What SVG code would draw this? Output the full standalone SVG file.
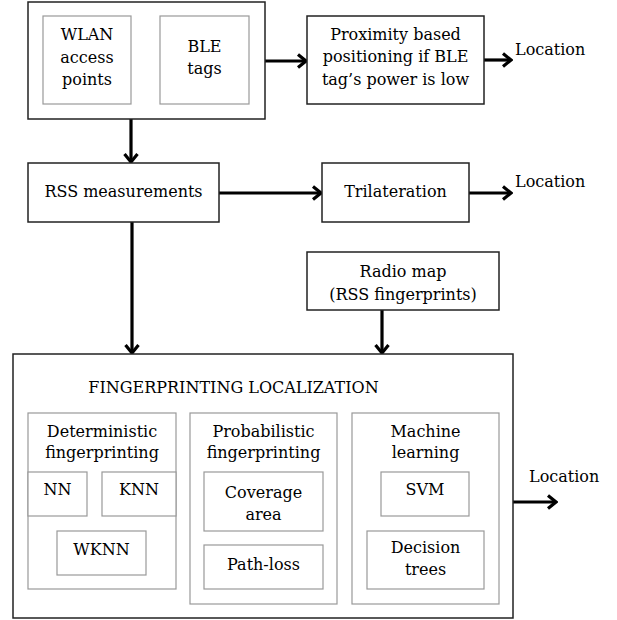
<svg xmlns="http://www.w3.org/2000/svg" width="617" height="620" viewBox="0 0 617 620">
<defs>
<marker id="ah" markerUnits="userSpaceOnUse" viewBox="0 0 12 16" refX="10" refY="8" markerWidth="12" markerHeight="16" orient="auto">
<path d="M2,1.5 L10,8 L2,14.5" fill="none" stroke="#000" stroke-width="3.2" stroke-linejoin="miter"/>
</marker>
</defs>
<style>
text{font-family:"DejaVu Serif","Liberation Serif",serif;font-size:16px;fill:#000;text-anchor:middle}
.main{fill:#fff;stroke:#222;stroke-width:1.5}
.sub{fill:#fff;stroke:#999;stroke-width:1.2}
.conn{stroke:#000;stroke-width:3.2;fill:none;marker-end:url(#ah)}
.loc{text-anchor:start}
</style>
<rect width="617" height="620" fill="#fff"/>
<g id="connectors">
<line class="conn" x1="249" y1="61" x2="306" y2="61"/>
<line class="conn" x1="484" y1="60" x2="511" y2="60"/>
<line class="conn" x1="131" y1="119" x2="131" y2="162"/>
<line class="conn" x1="219" y1="193" x2="321" y2="193"/>
<line class="conn" x1="469" y1="193" x2="511" y2="193"/>
<line class="conn" x1="132" y1="222" x2="132" y2="353"/>
<line class="conn" x1="382" y1="310" x2="382" y2="353"/>
<line class="conn" x1="513" y1="502" x2="556" y2="502"/>
</g>
<g id="sources">
<rect class="main" x="28" y="2" width="237" height="117"/>
<g id="wlan">
<rect class="sub" x="43" y="16" width="88" height="88"/>
<text x="87" y="40">WLAN</text>
<text x="87" y="63">access</text>
<text x="87" y="85">points</text>
</g>
<g id="ble">
<rect class="sub" x="160" y="16" width="89" height="88"/>
<text x="204.5" y="52">BLE</text>
<text x="204.5" y="74">tags</text>
</g>
</g>
<g id="proximity">
<rect class="main" x="307" y="16" width="177" height="88"/>
<text x="395.5" y="40">Proximity based</text>
<text x="395.5" y="62">positioning if BLE</text>
<text x="395.5" y="85">tag’s power is low</text>
</g>
<text class="loc" x="515" y="55">Location</text>
<g id="rss">
<rect class="main" x="28" y="163" width="191" height="59"/>
<text x="123.5" y="197">RSS measurements</text>
</g>
<g id="trilateration">
<rect class="main" x="322" y="163" width="147" height="59"/>
<text x="395.5" y="197">Trilateration</text>
</g>
<text class="loc" x="515" y="187">Location</text>
<g id="radiomap">
<rect class="main" x="307" y="252" width="192" height="58"/>
<text x="403" y="277">Radio map</text>
<text x="403" y="300">(RSS fingerprints)</text>
</g>
<g id="fingerprinting">
<rect class="main" x="13" y="354" width="500" height="264"/>
<text x="233.5" y="393">FINGERPRINTING LOCALIZATION</text>
<g id="deterministic">
<rect class="sub" x="28" y="413" width="148" height="176"/>
<text x="102" y="437">Deterministic</text>
<text x="102" y="458">fingerprinting</text>
<g id="nn"><rect class="sub" x="28" y="472" width="59" height="44"/><text x="57.5" y="495">NN</text></g>
<g id="knn"><rect class="sub" x="102" y="472" width="74" height="44"/><text x="139" y="495">KNN</text></g>
<g id="wknn"><rect class="sub" x="57" y="531" width="89" height="44"/><text x="101.5" y="555">WKNN</text></g>
</g>
<g id="probabilistic">
<rect class="sub" x="190" y="413" width="147" height="191"/>
<text x="263.5" y="437">Probabilistic</text>
<text x="263.5" y="458">fingerprinting</text>
<g id="coverage"><rect class="sub" x="204" y="472" width="119" height="59"/><text x="263.5" y="498">Coverage</text><text x="263.5" y="520">area</text></g>
<g id="pathloss"><rect class="sub" x="204" y="545" width="119" height="44"/><text x="263.5" y="570">Path-loss</text></g>
</g>
<g id="ml">
<rect class="sub" x="352" y="413" width="147" height="191"/>
<text x="425.5" y="437">Machine</text>
<text x="425.5" y="458">learning</text>
<g id="svm"><rect class="sub" x="381" y="472" width="88" height="44"/><text x="425" y="495">SVM</text></g>
<g id="trees"><rect class="sub" x="367" y="531" width="117" height="58"/><text x="425.5" y="553">Decision</text><text x="425.5" y="575">trees</text></g>
</g>
</g>
<text class="loc" x="529" y="482">Location</text>
</svg>
